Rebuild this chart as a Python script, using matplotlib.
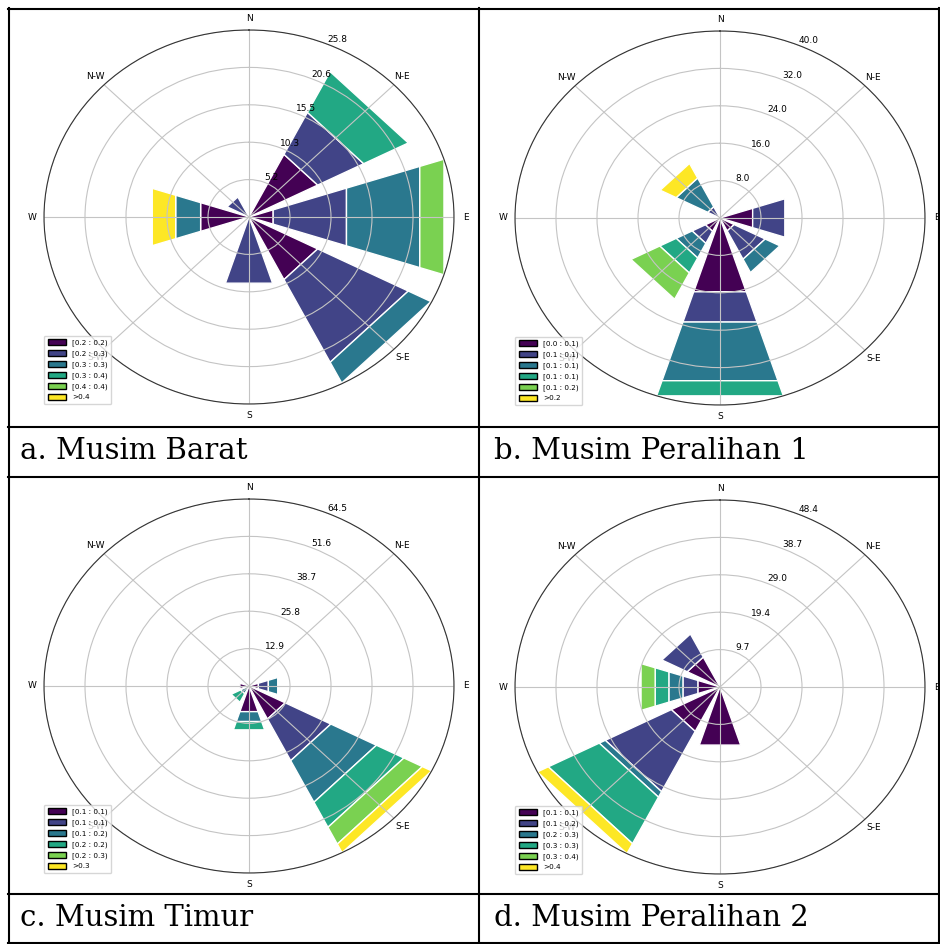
import numpy as np
import matplotlib
matplotlib.use("Agg")
import matplotlib.pyplot as plt
from matplotlib.patches import Rectangle
from matplotlib.lines import Line2D

# Compass sectors (degrees clockwise from north) and their labels
directions = [0, 45, 90, 135, 180, 225, 270, 315]
direction_labels = ["N", "N-E", "E", "S-E", "S", "S-W", "W", "N-W"]

# Frequency (%) per sector (rows N..NW) for each speed bin (columns)
barat_freq = [
    [0.0, 0.0, 0.0, 0.0, 0.0, 0.0],
    [9.7, 6.5, 0.0, 6.3, 0.0, 0.0],
    [3.2, 9.7, 9.7, 0.0, 3.2, 0.0],
    [9.7, 12.8, 3.2, 0.0, 0.0, 0.0],
    [0.0, 9.6, 0.0, 0.0, 0.0, 0.0],
    [0.0, 0.0, 0.0, 0.0, 0.0, 0.0],
    [6.4, 0.0, 3.3, 0.0, 0.0, 3.1],
    [0.0, 3.1, 0.0, 0.0, 0.0, 0.0],
]
peralihan1_freq = [
    [0.0, 0.0, 0.0, 0.0, 0.0, 0.0],
    [0.0, 0.0, 0.0, 0.0, 0.0, 0.0],
    [6.7, 6.6, 0.0, 0.0, 0.0, 0.0],
    [3.1, 6.8, 3.2, 0.0, 0.0, 0.0],
    [16.6, 6.8, 13.2, 3.4, 0.0, 0.0],
    [3.2, 2.9, 3.5, 3.6, 6.3, 0.0],
    [0.0, 0.0, 0.0, 0.0, 0.0, 0.0],
    [0.0, 2.7, 6.9, 0.0, 0.0, 3.5],
]
timur_freq = [
    [0.0, 0.0, 0.0, 0.0, 0.0, 0.0],
    [0.0, 0.0, 0.0, 0.0, 0.0, 0.0],
    [3.1, 3.3, 3.1, 0.0, 0.0, 0.0],
    [12.8, 16.1, 16.1, 9.7, 6.5, 3.3],
    [9.3, 0.0, 3.6, 3.0, 0.0, 0.0],
    [0.0, 0.0, 3.0, 3.3, 0.0, 0.0],
    [3.0, 0.0, 0.0, 0.0, 0.0, 0.0],
    [0.0, 0.0, 0.0, 0.0, 0.0, 0.0],
]
peralihan2_freq = [
    [0.0, 0.0, 0.0, 0.0, 0.0, 0.0],
    [0.0, 0.0, 0.0, 0.0, 0.0, 0.0],
    [0.0, 0.0, 0.0, 0.0, 0.0, 0.0],
    [0.0, 0.0, 0.0, 0.0, 0.0, 0.0],
    [15.8, 0.0, 0.0, 0.0, 0.0, 0.0],
    [12.9, 17.5, 1.6, 13.5, 0.0, 2.9],
    [5.5, 3.7, 3.5, 3.4, 3.5, 0.0],
    [8.7, 6.7, 0.0, 0.0, 0.0, 0.0],
]

# Speed-bin legend labels
barat_bins = ["[0.2 : 0.2)", "[0.2 : 0.3)", "[0.3 : 0.3)", "[0.3 : 0.4)", "[0.4 : 0.4)", ">0.4"]
peralihan1_bins = ["[0.0 : 0.1)", "[0.1 : 0.1)", "[0.1 : 0.1)", "[0.1 : 0.1)", "[0.1 : 0.2)", ">0.2"]
timur_bins = ["[0.1 : 0.1)", "[0.1 : 0.1)", "[0.1 : 0.2)", "[0.2 : 0.2)", "[0.2 : 0.3)", ">0.3"]
peralihan2_bins = ["[0.1 : 0.1)", "[0.1 : 0.2)", "[0.2 : 0.3)", "[0.3 : 0.3)", "[0.3 : 0.4)", ">0.4"]

captions = ["a. Musim Barat", "b. Musim Peralihan 1", "c. Musim Timur", "d. Musim Peralihan 2"]

W, H = 940, 944
fig = plt.figure(figsize=(W / 100, H / 100), dpi=100)
fig.patch.set_facecolor("white")


def px_rect(x0, y0, x1, y1):
    return [x0 / W, 1 - y1 / H, (x1 - x0) / W, (y1 - y0) / H]


colors = plt.cm.viridis(np.linspace(0, 1, 6))


def windrose(rect, freq, bins):
    ax = fig.add_axes(rect, projection="polar")
    ax.set_theta_zero_location("N")
    ax.set_theta_direction(-1)
    ax.set_aspect("auto")
    table = np.array(freq, dtype=float)
    rmax = table.sum(axis=1).max()
    sector = np.deg2rad(360 / len(directions))
    opening = sector * 0.8
    for i, d in enumerate(directions):
        th = np.deg2rad(d)
        offset = 0.0
        for j in range(table.shape[1]):
            val = table[i, j]
            if val > 0:
                ax.add_patch(Rectangle((th - opening / 2, offset), opening, val,
                                       facecolor=colors[j], edgecolor="white",
                                       linewidth=1.0, zorder=1))
            offset += val
    ax.set_ylim(0, rmax)
    radii = np.linspace(0, rmax, 6)[1:]
    ax.set_rgrids(radii, labels=[f"{r:.1f}" for r in radii], angle=22.5)
    ax.set_thetagrids(directions, labels=direction_labels)
    ax.tick_params(axis="x", labelsize=6.5, pad=-2)
    ax.tick_params(axis="y", labelsize=6.5)
    ax.grid(True, color="#c4c4c4", linewidth=0.8)
    ax.spines["polar"].set_linewidth(0.8)
    ax.spines["polar"].set_color("#333333")
    handles = [Rectangle((0, 0), 0.2, 0.2, facecolor=c, edgecolor="black") for c in colors]
    ax.legend(handles, bins, loc="lower left", bbox_to_anchor=(0, 0),
              borderaxespad=0, fontsize=5.2, handlelength=2.6, handleheight=0.8,
              labelspacing=0.55, borderpad=0.5)
    return ax


windrose(px_rect(44, 30, 454, 404), barat_freq, barat_bins)
windrose(px_rect(515, 31, 925, 405), peralihan1_freq, peralihan1_bins)
windrose(px_rect(44, 499, 454, 873), timur_freq, timur_bins)
windrose(px_rect(515, 500, 925, 874), peralihan2_freq, peralihan2_bins)

# Captions under each plot
cap_pos = [(20, 459), (494, 459), (20, 926), (494, 926)]
for (x, y), text in zip(cap_pos, captions):
    fig.text(x / W, 1 - y / H, text, family="DejaVu Serif", fontsize=21,
             ha="left", va="baseline", color="black")

# Table borders
lw = 1.5


def hline(y, x0=8, x1=939):
    fig.add_artist(Line2D([x0 / W, x1 / W], [1 - y / H, 1 - y / H],
                          color="black", linewidth=lw, transform=fig.transFigure))


def vline(x, y0=8, y1=943):
    fig.add_artist(Line2D([x / W, x / W], [1 - y0 / H, 1 - y1 / H],
                          color="black", linewidth=lw, transform=fig.transFigure))


for y in (8.5, 426.5, 477.5, 894, 943):
    hline(y)
for x in (8.5, 479.5, 939):
    vline(x)

fig.savefig("out.png", dpi=100, facecolor="white")
